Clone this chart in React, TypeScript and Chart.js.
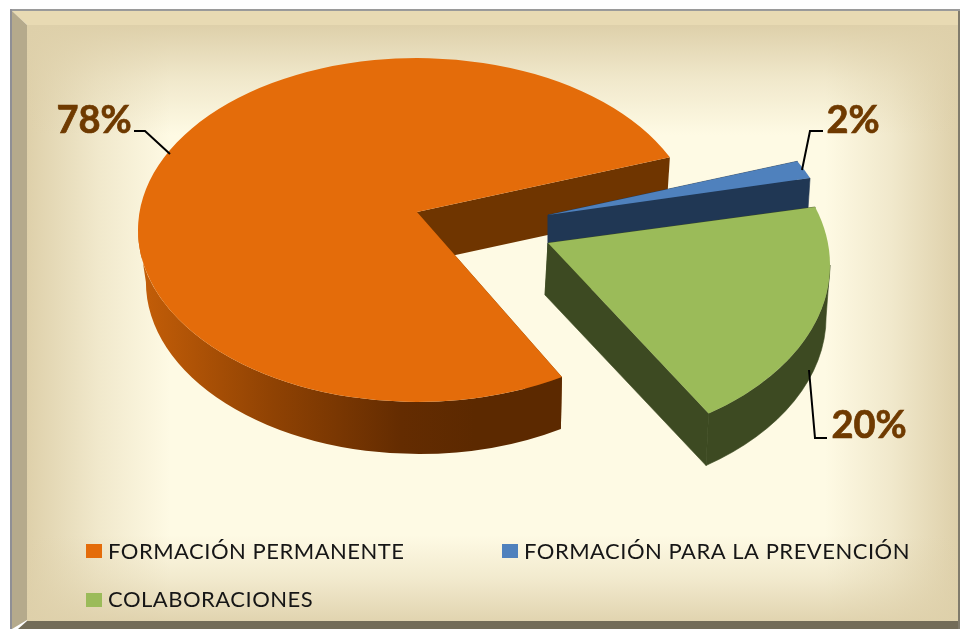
import React, { useEffect, useRef } from "react";
import { Chart, registerables } from "chart.js";

Chart.register(...registerables);

const categories = ["FORMACIÓN PERMANENTE", "FORMACIÓN PARA LA PREVENCIÓN", "COLABORACIONES"];
const shares = [78, 2, 20];
const topColors = ["#e46c0a", "#4f81bd", "#9bbb59"];
const faceColors = ["#6f3500", "#203754", "#3d4a22"];

// Fake-3D projection of the library's arc elements (all relative to the arc's own centre and radius).
const DEG = Math.PI / 180;
const DEPTH = 52;
const view = [
  { dx: 0, dy: 0, ry: 172, lift: 18, apexDx: 0, apexDrop: -3, a0: 0.7, a1: -3.8, bdx: 2, cut: 5.9 },
  { dx: 134, dy: 12, ry: 172, lift: 27, apexDx: -3, apexDrop: 0, a0: -6.8, a1: -7.8, bdx: 2, cut: 5.9 },
  { dx: 134, dy: 35, ry: 180, lift: 22, apexDx: -3, apexDrop: -3, a0: -4.8, a1: -2.4, bdx: -1, cut: 2.9 },
];
const labelPlaces = [
  { x: 94, y: 133, line: [[134, 131], [145, 131], [170, 154]] },
  { x: 853, y: 133, line: [[823, 131], [810, 131], [802, 170]] },
  { x: 869, y: 438, line: [[809, 370], [815, 438], [827, 438]] },
];
const legendPlaces = [
  { x: 86, y: 544, base: 559 },
  { x: 502, y: 544, base: 559 },
  { x: 86, y: 593, base: 607 },
];

function drawFrame(ctx: CanvasRenderingContext2D) {
  ctx.save();
  ctx.fillStyle = "#ffffff";
  ctx.fillRect(0, 0, 960, 629);
  ctx.fillStyle = "#fefae4";
  ctx.fillRect(27, 25, 931, 596);
  const edge = (x0: number, y0: number, x1: number, y1: number, a: number) => {
    const g = ctx.createLinearGradient(x0, y0, x1, y1);
    g.addColorStop(0, `rgba(222,208,170,${a})`);
    g.addColorStop(0.5, `rgba(222,208,170,${a * 0.42})`);
    g.addColorStop(1, "rgba(222,208,170,0)");
    ctx.fillStyle = g;
    ctx.fillRect(27, 25, 931, 596);
  };
  edge(27, 0, 170, 0, 1);
  edge(958, 0, 825, 0, 1);
  edge(0, 25, 0, 135, 1);
  edge(0, 621, 0, 535, 0.9);

  const poly = (pts: number[][], c: string) => {
    ctx.fillStyle = c;
    ctx.beginPath();
    pts.forEach((p, i) => (i ? ctx.lineTo(p[0], p[1]) : ctx.moveTo(p[0], p[1])));
    ctx.closePath();
    ctx.fill();
  };
  poly([[11, 10], [958, 10], [958, 25], [27, 25]], "#e8dab3");
  poly([[11, 10], [27, 25], [27, 620], [12, 629], [11, 629]], "#b5aa8c");
  poly([[27, 621], [960, 621], [960, 629], [18, 629]], "#736c58");
  ctx.fillStyle = "#9a9a9a";
  ctx.fillRect(10, 9, 950, 2);
  ctx.fillStyle = "#8f8f95";
  ctx.fillRect(10, 9, 2, 620);
  ctx.fillStyle = "#807b6c";
  ctx.fillRect(958, 11, 2, 618);
  ctx.restore();
}

function normal(start: number, end: number) {
  let a0 = start;
  let a1 = end;
  while (a0 > Math.PI) {
    a0 -= 2 * Math.PI;
    a1 -= 2 * Math.PI;
  }
  return [a0, a1];
}

const pie3d = {
  id: "pie3d",
  beforeDraw(chart: any) {
    drawFrame(chart.ctx);
  },
  beforeDatasetDraw(chart: any) {
    const ctx: CanvasRenderingContext2D = chart.ctx;
    const arcs = chart.getDatasetMeta(0).data;
    arcs.forEach((arc: any, i: number) => {
      const v = view[i];
      const [s, e] = normal(arc.startAngle, arc.endAngle);
      const a0 = s + v.a0 * DEG;
      const a1 = e + v.a1 * DEG;
      const cx = arc.x + v.dx;
      const cy = arc.y + v.dy;
      const rx = arc.outerRadius;
      const ry = v.ry;
      const ax = cx + v.apexDx;
      const ay = cy - v.lift;
      const bx = cx + v.bdx;
      const by = cy + DEPTH;
      const brx = rx - v.cut;
      const top = (t: number) => [cx + rx * Math.cos(t), cy + ry * Math.sin(t)];
      const bot = (t: number) => [bx + brx * Math.cos(t), by + ry * Math.sin(t)];

      ctx.save();
      // radial faces
      ctx.fillStyle = faceColors[i];
      ctx.strokeStyle = faceColors[i];
      ctx.lineWidth = 0.6;
      [a0, a1].forEach((t) => {
        const p = top(t);
        const q = bot(t);
        ctx.beginPath();
        ctx.moveTo(ax, ay);
        ctx.lineTo(p[0], p[1]);
        ctx.lineTo(q[0], q[1]);
        ctx.lineTo(ax + v.apexDrop, ay + DEPTH);
        ctx.closePath();
        ctx.fill();
        if (i > 0) ctx.stroke();
      });
      // outer rim, front half only
      const lo = Math.max(a0, 0);
      const hi = Math.min(a1, Math.PI);
      if (lo < hi) {
        if (i === 0) {
          const g = ctx.createLinearGradient(140, 0, 475, 0);
          g.addColorStop(0, "#c45e08");
          g.addColorStop(0.4, "#8f4203");
          g.addColorStop(0.78, "#642c01");
          g.addColorStop(1, "#5c2900");
          ctx.fillStyle = g;
        }
        ctx.beginPath();
        ctx.ellipse(cx, cy, rx, ry, 0, lo, hi, false);
        ctx.ellipse(bx, by, brx, ry, 0, hi, lo, true);
        ctx.closePath();
        ctx.fill();
        if (i > 0) ctx.stroke();
      }
      // top surface
      ctx.fillStyle = arc.options.backgroundColor;
      ctx.beginPath();
      ctx.moveTo(ax, ay);
      ctx.ellipse(cx, cy, rx, ry, 0, a0, a1, false);
      ctx.closePath();
      ctx.fill();
      ctx.restore();
    });
    return false;
  },
  afterDraw(chart: any) {
    const ctx: CanvasRenderingContext2D = chart.ctx;
    ctx.save();
    labelPlaces.forEach((p, i) => {
      ctx.strokeStyle = "#000000";
      ctx.lineWidth = 2;
      ctx.beginPath();
      p.line.forEach((q, j) => (j ? ctx.lineTo(q[0], q[1]) : ctx.moveTo(q[0], q[1])));
      ctx.stroke();
      ctx.fillStyle = "#6f3a00";
      ctx.strokeStyle = "#6f3a00";
      ctx.lineWidth = 0.7;
      ctx.font = "bold 38px Lato";
      ctx.textAlign = "center";
      ctx.textBaseline = "alphabetic";
      ctx.fillText(`${shares[i]}%`, p.x, p.y);
      ctx.strokeText(`${shares[i]}%`, p.x, p.y);
    });
    legendPlaces.forEach((p, i) => {
      ctx.fillStyle = topColors[i];
      ctx.fillRect(p.x, p.y, 16, 14);
      ctx.fillStyle = "#161616";
      ctx.font = "22px Lato";
      (ctx as any).letterSpacing = "0.5px";
      ctx.textAlign = "left";
      ctx.textBaseline = "alphabetic";
      ctx.fillText(categories[i], p.x + 22, p.base);
      (ctx as any).letterSpacing = "0px";
    });
    ctx.restore();
  },
};

export default function App() {
  const ref = useRef<HTMLCanvasElement>(null);
  useEffect(() => {
    const chart = new Chart(ref.current!, {
      type: "pie",
      data: {
        labels: categories,
        datasets: [{ data: shares, backgroundColor: topColors, borderWidth: 0 }],
      },
      options: {
        responsive: false,
        animation: false,
        rotation: 148,
        radius: 279,
        layout: { padding: { left: 0, right: 126, top: 0, bottom: 169 } },
        plugins: { legend: { display: false }, tooltip: { enabled: false } },
      },
      plugins: [pie3d],
    } as any);
    return () => chart.destroy();
  }, []);
  return (
    <div style={{ position: "fixed", left: 0, top: 0, width: 960, height: 629 }}>
      <canvas ref={ref} width={960} height={629} style={{ display: "block", width: 960, height: 629 }} />
    </div>
  );
}
